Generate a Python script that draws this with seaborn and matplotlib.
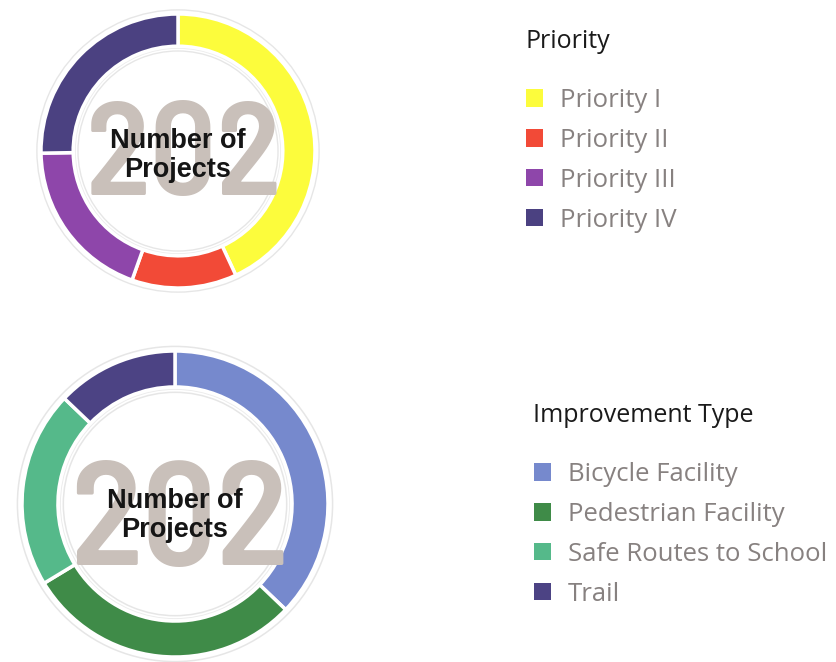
import numpy as np
import matplotlib.pyplot as plt
import seaborn as sns
from matplotlib.patches import Patch

# data
priority_labels = ['Priority I', 'Priority II', 'Priority III', 'Priority IV']
priority_counts = [87, 25, 39, 51]
priority_colors = ['#fcfc3c', '#f24a37', '#8e46aa', '#4b4181']

type_labels = ['Bicycle Facility', 'Pedestrian Facility', 'Safe Routes to School', 'Trail']
type_counts = [75, 59, 42, 26]
type_colors = ['#7689cd', '#3f8b48', '#55b98a', '#4c4384']

total_label = '202'
center_lines = ['Number of', 'Projects']

sns.set_theme(style='white')
plt.rcParams['font.family'] = ['Open Sans', 'DejaVu Sans']

W, H = 837, 662
fig = plt.figure(figsize=(W / 100, H / 100), dpi=100)
fig.patch.set_facecolor('white')

big_font = ['Barlow Semi Condensed', 'Liberation Sans', 'DejaVu Sans']
label_font = ['Liberation Sans', 'DejaVu Sans']


def donut(cx, cy, r, counts, colors, big_size, big_pos, line_bases):
    # cx, cy, r and text positions are in pixels from the top-left corner
    lim = 1.06
    half = r * lim
    ax = fig.add_axes([(cx - half) / W, 1 - (cy + half) / H, 2 * half / W, 2 * half / H])
    # faint outer halo
    ax.pie([sum(counts)], radius=1.035, colors=['#e6e6e6'],
           wedgeprops=dict(width=0.31, linewidth=0))
    ax.pie([sum(counts)], radius=1.025, colors=['white'],
           wedgeprops=dict(width=0.29, linewidth=0))
    ax.pie(counts, radius=1.0, colors=colors, startangle=90, counterclock=False,
           wedgeprops=dict(width=0.235, edgecolor='white', linewidth=2.5))
    # faint inner line
    ax.pie([sum(counts)], radius=0.752, colors=['#ececec'],
           wedgeprops=dict(width=0.006, linewidth=0))
    ax.set_xlim(-lim, lim)
    ax.set_ylim(-lim, lim)
    ax.set_aspect('equal')
    ax.axis('off')
    bx, by = big_pos
    ax.text((bx - cx) / r, (cy - by) / r, total_label, ha='center', va='baseline',
            fontsize=big_size, fontweight=600, color='#c9c0ba', family=big_font)
    for line, base in zip(center_lines, line_bases):
        ax.text(0, (cy - base) / r, line, ha='center', va='baseline', fontsize=19.5,
                fontweight='bold', color='#151515', family=label_font)
    return ax


donut(178, 151, 137, priority_counts, priority_colors, 95, (184, 195), [148, 177])
donut(175, 504, 153, type_counts, type_colors, 106, (179, 565), [508, 537])


def legend_block(x, y_title, y_first, title, labels, colors):
    fig.text(x / W, 1 - y_title / H, title, ha='left', va='center',
             fontsize=18, color='#1a1a1a')
    handles = [Patch(facecolor=c, edgecolor='none') for c in colors]
    fig.legend(handles, labels, loc='upper left',
               bbox_to_anchor=((x + 1) / W, 1 - (y_first - 10) / H),
               frameon=False, fontsize=18.5, labelcolor='#878180',
               handlelength=0.66, handleheight=0.66, handletextpad=0.66,
               labelspacing=0.58, borderpad=0, borderaxespad=0)


legend_block(525, 42, 98, 'Priority', priority_labels, priority_colors)
legend_block(533, 415, 472, 'Improvement Type', type_labels, type_colors)

fig.savefig('out.png', dpi=100, facecolor='white')
